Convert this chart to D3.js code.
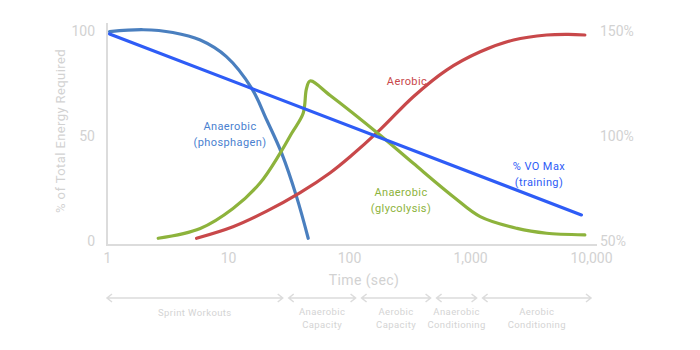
<html>
<head>
<meta charset="UTF-8">
<script src="https://d3js.org/d3.v7.min.js"></script>
<style>
  body { margin: 0; background: #fff; }
  text { font-family: Roboto, "DejaVu Sans", sans-serif; }
  .tick text { fill: #d2d2d2; font-size: 14px; }
</style>
</head>
<body>
<svg id="chart" width="700" height="350"></svg>
<script>
// time (sec) vs % of total energy
const phosphagen = [[1.05, 99.7], [2, 100.6], [3.5, 99.3], [5.9, 95.7], [9.7, 87.8], [15.7, 72.7],
  [20.9, 57.6], [27.8, 41.7], [36.9, 21], [46, 1.3]];
const glycolysis = [[2.65, 1.3], [5.9, 6], [11, 15.5], [18.4, 27.6], [26.9, 41.7], [33.6, 51.3],
  [41.8, 60.8], [44.5, 72.5], [47.7, 76.2], [70, 69.3], [180, 50.5], [340, 37], [728, 21.1],
  [1214, 11.6], [2450, 6], [4300, 3.7], [8900, 2.9]];
const aerobic = [[5.5, 1.3], [11, 6.8], [20.9, 14.2], [39.2, 22.9], [70, 32.5], [102, 40.1], [180, 52.9],
  [340, 68.7], [640, 81.4], [1214, 90.1], [2290, 95.7], [4300, 98.1], [6500, 98.4], [8900, 98.1]];
// % VO max (right axis)
const voMax = [[1.05, 148.6], [8330, 62.4]];

const xTicks = [1, 10, 100, 1000, 10000];
const yTicks = [0, 50, 100];
const y2Ticks = [50, 100, 150];

const zones = [
  {from: 1, to: 30, label: ["Sprint Workouts"]},
  {from: 30, to: 120, label: ["Anaerobic", "Capacity"]},
  {from: 120, to: 500, label: ["Aerobic", "Capacity"]},
  {from: 500, to: 1200, label: ["Anaerobic", "Conditioning"]},
  {from: 1200, to: 10000, label: ["Aerobic", "Conditioning"]}
];

const svg = d3.select('#chart');
const x = d3.scaleLog().domain([1, 10000]).range([107, 591]);
const y = d3.scaleLinear().domain([0, 100]).range([241, 31]);
const y2 = d3.scaleLinear().domain([50, 150]).range([241, 31]);

// axis lines
svg.append('line').attr('x1', 107).attr('x2', 107).attr('y1', 23).attr('y2', 245)
  .attr('stroke', '#dcdcdc').attr('stroke-width', 2);
svg.append('line').attr('x1', 106).attr('x2', 597).attr('y1', 245).attr('y2', 245)
  .attr('stroke', '#dcdcdc').attr('stroke-width', 2);

const fmt = d3.format(',');
const gx = svg.append('g').attr('transform', 'translate(0,250)')
  .call(d3.axisBottom(x).tickValues(xTicks).tickFormat(fmt).tickSize(0));
gx.select('.domain').remove();

const gy = svg.append('g').attr('transform', 'translate(98,0)')
  .call(d3.axisLeft(y).tickValues(yTicks).tickSize(0));
gy.select('.domain').remove();

const gy2 = svg.append('g').attr('transform', 'translate(600,0)')
  .call(d3.axisRight(y2).tickValues(y2Ticks).tickFormat(d => d + '%').tickSize(0));
gy2.select('.domain').remove();
gy2.selectAll('text').attr('x', 0);

svg.append('text').attr('transform', 'translate(65,131) rotate(-90)')
  .attr('text-anchor', 'middle').attr('fill', '#d2d2d2').attr('font-size', 13)
  .attr('letter-spacing', 0.4).text('% of Total Energy Required');
svg.append('text').attr('x', 364).attr('y', 285).attr('text-anchor', 'middle')
  .attr('fill', '#d2d2d2').attr('font-size', 14).attr('letter-spacing', 0.4).text('Time (sec)');

// curves
const line = d3.line().x(d => x(d[0])).y(d => y(d[1])).curve(d3.curveCatmullRom.alpha(0.5));
const line2 = d3.line().x(d => x(d[0])).y(d => y2(d[1]));
const draw = (data, color, gen) => svg.append('path').datum(data).attr('d', gen)
  .attr('fill', 'none').attr('stroke', color).attr('stroke-width', 3.2).attr('stroke-linecap', 'round');
draw(phosphagen, '#4a7fbf', line);
draw(aerobic, '#c8484a', line);
draw(glycolysis, '#8db33c', line);
draw(voMax, '#2e5cf6', line2);

// curve labels
const labels = [
  {x: 230, y: 130, lines: ['Anaerobic', '(phosphagen)'], color: '#4a7fcf'},
  {x: 407, y: 85, lines: ['Aerobic'], color: '#c8484a'},
  {x: 539, y: 170, lines: ['% VO Max', '(training)'], color: '#2e5cf6'},
  {x: 401, y: 196, lines: ['Anaerobic', '(glycolysis)'], color: '#8db33c'}
];
labels.forEach(l => {
  const t = svg.append('text').attr('text-anchor', 'middle').attr('fill', l.color)
    .attr('font-size', 11).attr('letter-spacing', 0.4);
  l.lines.forEach((s, i) => t.append('tspan').attr('x', l.x).attr('y', l.y + i * 16).text(s));
});

// zone arrows
const gap = 3;
zones.forEach(z => {
  const x0 = x(z.from) + (z.from === 1 ? 0 : gap);
  const x1 = x(z.to) - (z.to === 10000 ? 0 : gap);
  const yy = 298;
  svg.append('path')
    .attr('d', `M${x0},${yy}H${x1}M${x0 + 5},${yy - 4}L${x0},${yy}L${x0 + 5},${yy + 4}M${x1 - 5},${yy - 4}L${x1},${yy}L${x1 - 5},${yy + 4}`)
    .attr('fill', 'none').attr('stroke', '#dcdcdc').attr('stroke-width', 1.5);
  const cx = (x0 + x1) / 2;
  const t = svg.append('text').attr('text-anchor', 'middle').attr('fill', '#d4d4d4')
    .attr('font-size', 9.5).attr('letter-spacing', 0.4);
  const y0 = z.label.length === 1 ? 316 : 315;
  z.label.forEach((s, i) => t.append('tspan').attr('x', cx).attr('y', y0 + i * 13).text(s));
});
</script>
</body>
</html>
